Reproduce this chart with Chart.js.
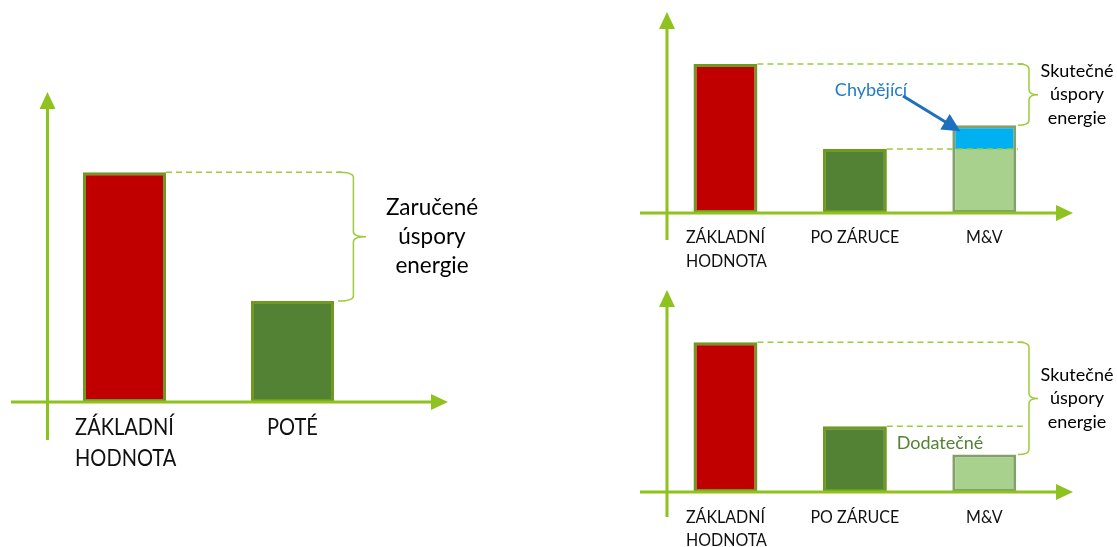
<!DOCTYPE html>
<html>
<head>
<meta charset="utf-8">
<script src="https://cdn.jsdelivr.net/npm/chart.js@4"></script>
<style>
    body { margin: 0; background: #fff; width: 1117px; height: 547px; overflow: hidden; position: relative; }
    canvas { position: absolute; }
</style>
</head>
<body>
<canvas id="leftChart" width="560" height="547" style="left:0;top:0"></canvas>
<canvas id="topChart" width="557" height="273" style="left:560px;top:0"></canvas>
<canvas id="bottomChart" width="557" height="274" style="left:560px;top:273px"></canvas>
<script>
// values in relative units (baseline = 100)
const leftCategories = [['ZÁKLADNÍ', 'HODNOTA'], 'POTÉ'];
const leftValues = [100, 44];

const rightCategories = [['ZÁKLADNÍ', 'HODNOTA'], 'PO ZÁRUCE', 'M&V'];
const topValues = [100, 43, 43];
const topMissing = [0, 0, 16];
const bottomValues = [100, 44, 25];

const bracketLeft = ['Zaručené', 'úspory', 'energie'];
const bracketRight = ['Skutečné', 'úspory', 'energie'];

const yMax = 135;

const RED = '#C00000';
const DARK = '#548235';
const LIGHT = '#A9D18E';
const BLUE = '#00B0F0';
const AXIS = '#8DC21F';
const DASH = '#9DCB3C';
const OLIVE = '#6E9A22';
const GREYGREEN = '#83A06B';
const FONT = 'Lato, "Open Sans", sans-serif';

function arrowHead(ctx, x, y, dir, w, h) {
    ctx.beginPath();
    if (dir === 'up') {
        ctx.moveTo(x, y); ctx.lineTo(x - w / 2, y + h); ctx.lineTo(x + w / 2, y + h);
    } else {
        ctx.moveTo(x, y); ctx.lineTo(x - h, y - w / 2); ctx.lineTo(x - h, y + w / 2);
    }
    ctx.closePath();
    ctx.fill();
}

function brace(ctx, x, y1, y2, depth) {
    const mid = (y1 + y2) / 2;
    const s = x + depth * 0.55;
    const r = 5;
    ctx.beginPath();
    ctx.moveTo(x, y1);
    ctx.quadraticCurveTo(s, y1, s, y1 + r);
    ctx.lineTo(s, mid - r);
    ctx.quadraticCurveTo(s, mid, x + depth, mid);
    ctx.quadraticCurveTo(s, mid, s, mid + r);
    ctx.lineTo(s, y2 - r);
    ctx.quadraticCurveTo(s, y2, x, y2);
    ctx.stroke();
}

// text squeezed a bit horizontally, closer to the narrow caps of the original
function squeezedText(ctx, text, x, y, sq) {
    ctx.save();
    ctx.translate(x, y);
    ctx.scale(sq, 1);
    ctx.fillText(text, 0, 0);
    ctx.restore();
}

// draws the axes, labels, dashed guides, bracket and notes
const decorPlugin = {
    id: 'decor',
    afterDraw(chart, args, opts) {
        const ctx = chart.ctx;
        const xs = chart.scales.x;
        const ys = chart.scales.y;
        const base = ys.getPixelForValue(0);
        const top = chart.chartArea.top;
        const bars = chart.getDatasetMeta(0).data;
        ctx.save();

        // dashed guides
        ctx.strokeStyle = DASH;
        ctx.lineWidth = 1.5;
        ctx.setLineDash([6, 4]);
        opts.guides.forEach(g => {
            const b = bars[g.from];
            ctx.beginPath();
            ctx.moveTo(b.x + b.width / 2, b.y);
            ctx.lineTo(opts.braceX + g.extra, b.y);
            ctx.stroke();
        });
        ctx.setLineDash([]);

        // bracket
        const first = bars[0];
        const last = bars[bars.length - 1];
        let lastTop = last.y;
        if (chart.data.datasets.length > 1) {
            lastTop = chart.getDatasetMeta(1).data[bars.length - 1].y;
        }
        ctx.strokeStyle = DASH;
        ctx.lineWidth = 1.5;
        brace(ctx, opts.braceX, first.y, lastTop, opts.braceDepth);

        ctx.fillStyle = '#000';
        ctx.font = opts.noteFont + 'px ' + FONT;
        ctx.textAlign = 'center';
        ctx.textBaseline = 'middle';
        const midY = (first.y + lastTop) / 2;
        opts.note.forEach((line, i) => {
            ctx.fillText(line, opts.noteX, midY + (i - 1) * opts.noteGap);
        });

        // axes
        ctx.strokeStyle = AXIS;
        ctx.fillStyle = AXIS;
        ctx.lineWidth = 3;
        ctx.beginPath();
        ctx.moveTo(opts.yAxisX, opts.yAxisBottom);
        ctx.lineTo(opts.yAxisX, top + 14);
        ctx.moveTo(opts.xAxisStart, base);
        ctx.lineTo(opts.xAxisEnd - 14, base);
        ctx.stroke();
        arrowHead(ctx, opts.yAxisX, top, 'up', 16, 17);
        arrowHead(ctx, opts.xAxisEnd, base, 'right', 16, 17);

        // category labels
        const sq = 0.89;
        ctx.fillStyle = '#111';
        ctx.font = opts.labelFont + 'px ' + FONT;
        ctx.textAlign = 'left';
        chart.data.labels.forEach((lab, i) => {
            const lines = Array.isArray(lab) ? lab : [lab];
            const cx = xs.getPixelForValue(i);
            const left = cx - ctx.measureText(lines[0]).width * sq / 2;
            lines.forEach((line, j) => {
                squeezedText(ctx, line, left, base + opts.labelOffset + j * opts.labelGap, sq);
            });
        });

        if (opts.extra) opts.extra(chart, ctx, bars);
        ctx.restore();
    }
};

function makeChart(id, labels, datasets, pad, decor) {
    return new Chart(document.getElementById(id), {
        type: 'bar',
        data: { labels: labels, datasets: datasets },
        options: {
            responsive: false,
            animation: false,
            devicePixelRatio: 1,
            layout: { padding: pad },
            plugins: { legend: { display: false }, tooltip: { enabled: false }, decor: decor },
            scales: {
                x: { display: false, stacked: true },
                y: { display: false, stacked: true, min: 0, max: yMax }
            }
        },
        plugins: [decorPlugin]
    });
}

function mainDataset(values, colors, borders, skipLastTop) {
    return {
        data: values,
        backgroundColor: colors,
        borderColor: borders,
        borderWidth: 3,
        borderSkipped: ctx => (skipLastTop && ctx.dataIndex === values.length - 1) ? 'top' : false,
        barPercentage: 0.494,
        categoryPercentage: 1
    };
}

makeChart('leftChart', leftCategories,
    [mainDataset(leftValues, [RED, DARK], [OLIVE, OLIVE], false)],
    { left: 40.5, right: 183.5, top: 92, bottom: 145 },
    {
        guides: [{ from: 0, extra: 4 }],
        braceX: 338, braceDepth: 28,
        note: bracketLeft, noteX: 432, noteFont: 22.5, noteGap: 29,
        yAxisX: 47.5, yAxisBottom: 440, xAxisStart: 11, xAxisEnd: 448,
        labelFont: 22.5, labelOffset: 26, labelGap: 31
    });

makeChart('topChart', rightCategories,
    [
        mainDataset(topValues, [RED, DARK, LIGHT], [OLIVE, OLIVE, GREYGREEN], true),
        {
            data: topMissing,
            backgroundColor: BLUE,
            borderColor: GREYGREEN,
            borderWidth: 3,
            borderSkipped: 'bottom',
            barPercentage: 0.494,
            categoryPercentage: 1
        }
    ],
    { left: 100.75, right: 68, top: 12, bottom: 60 },
    {
        guides: [{ from: 0, extra: 6 }, { from: 1, extra: 0 }],
        braceX: 458, braceDepth: 20,
        note: bracketRight, noteX: 517, noteFont: 18, noteGap: 23.5,
        yAxisX: 107, yAxisBottom: 240, xAxisStart: 80, xAxisEnd: 513,
        labelFont: 18, labelOffset: 24, labelGap: 24,
        extra: (chart, ctx, bars) => {
            const target = chart.getDatasetMeta(1).data[2];
            const tx = target.x - target.width / 2 + 8;
            const ty = target.y + 6;
            ctx.fillStyle = '#1F7BC6';
            ctx.font = '18px ' + FONT;
            ctx.textAlign = 'center';
            ctx.textBaseline = 'middle';
            ctx.fillText('Chybějící', 311, 90);
            ctx.strokeStyle = '#1F6FBF';
            ctx.fillStyle = '#1F6FBF';
            ctx.lineWidth = 3;
            const sx = 343, sy = 96;
            const ang = Math.atan2(ty - sy, tx - sx);
            ctx.beginPath();
            ctx.moveTo(sx, sy);
            ctx.lineTo(tx - 14 * Math.cos(ang), ty - 14 * Math.sin(ang));
            ctx.stroke();
            ctx.beginPath();
            ctx.moveTo(tx, ty);
            ctx.lineTo(tx - 18 * Math.cos(ang) + 9 * Math.sin(ang), ty - 18 * Math.sin(ang) - 9 * Math.cos(ang));
            ctx.lineTo(tx - 18 * Math.cos(ang) - 9 * Math.sin(ang), ty - 18 * Math.sin(ang) + 9 * Math.cos(ang));
            ctx.closePath();
            ctx.fill();
        }
    });

makeChart('bottomChart', rightCategories,
    [mainDataset(bottomValues, [RED, DARK, LIGHT], [OLIVE, OLIVE, GREYGREEN], false)],
    { left: 100.75, right: 68, top: 17, bottom: 55 },
    {
        guides: [{ from: 0, extra: 8 }, { from: 1, extra: 8 }],
        braceX: 458, braceDepth: 20,
        note: bracketRight, noteX: 517, noteFont: 18, noteGap: 23.5,
        yAxisX: 107, yAxisBottom: 244, xAxisStart: 80, xAxisEnd: 513,
        labelFont: 18, labelOffset: 25, labelGap: 23,
        extra: (chart, ctx) => {
            ctx.fillStyle = DARK;
            ctx.font = '18px ' + FONT;
            ctx.textAlign = 'center';
            ctx.textBaseline = 'middle';
            ctx.fillText('Dodatečné', 380, 170);
        }
    });
</script>
</body>
</html>
